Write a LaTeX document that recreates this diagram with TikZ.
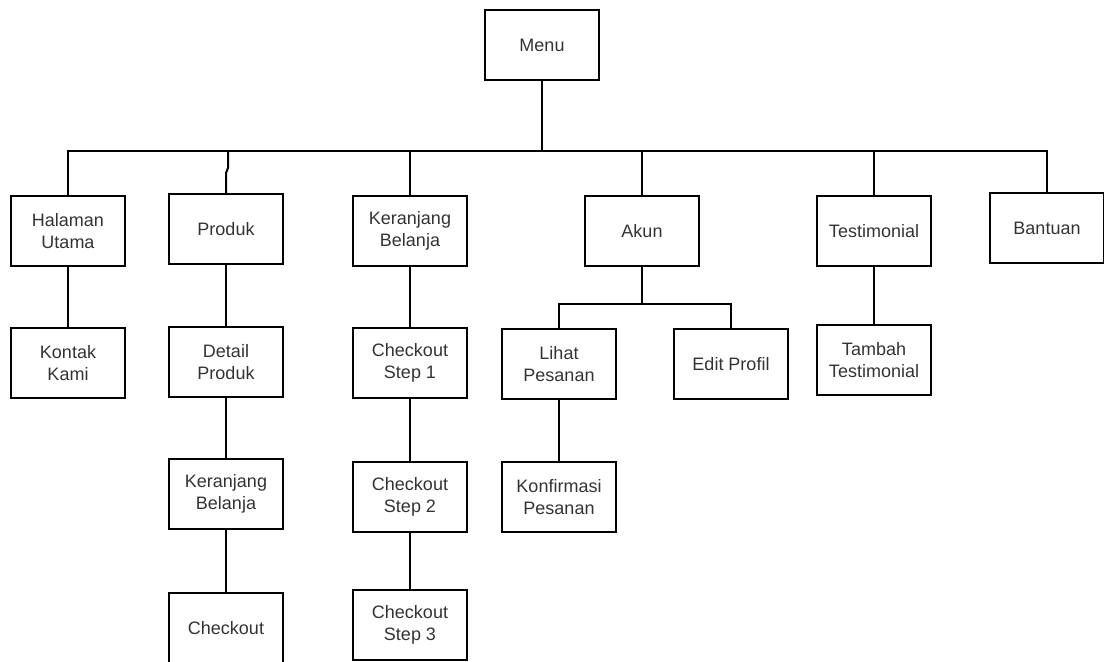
\documentclass[tikz,border=0pt]{standalone}
\usepackage{fontspec}
\setmainfont{Liberation Sans}
\tikzset{
  menubox/.style={draw,line width=1pt,minimum width=57pt,minimum height=35pt,
    align=center,inner sep=2pt,text=black!80,font=\fontsize{9}{10.8}\selectfont},
  link/.style={line width=1pt}
}
\begin{document}
\begin{tikzpicture}[x=.5pt,y=-.5pt]
\useasboundingbox (0,0) rectangle (1104,662);
%
\node[menubox] (menu) at (542,45) {Menu};
\node[menubox] (halaman) at (68,231) {Halaman\\Utama};
\node[menubox] (produk) at (226,229) {Produk};
\node[menubox] (keranjang) at (410,231) {Keranjang\\Belanja};
\node[menubox] (akun) at (642,231) {Akun};
\node[menubox] (testi) at (874,231) {Testimonial};
\node[menubox] (bantuan) at (1047,228) {Bantuan};
%
\node[menubox] (kontak) at (68,363) {Kontak\\Kami};
\node[menubox] (detail) at (226,362) {Detail\\Produk};
\node[menubox] (step1) at (410,363) {Checkout\\Step 1};
\node[menubox] (lihat) at (559,364) {Lihat\\Pesanan};
\node[menubox] (edit) at (731,364) {Edit Profil};
\node[menubox] (tambah) at (874,360) {Tambah\\Testimonial};
%
\node[menubox] (keranjangb) at (226,494) {Keranjang\\Belanja};
\node[menubox] (step2) at (410,497) {Checkout\\Step 2};
\node[menubox] (konfirmasi) at (559,497) {Konfirmasi\\Pesanan};
%
\node[menubox] (checkout) at (226,628) {Checkout};
\node[menubox] (step3) at (410,625) {Checkout\\Step 3};
%
\coordinate (bus) at (0,151);
\coordinate (subbus) at (0,304);
\coordinate (jog) at (228,168);
\draw[link] (menu) -- (menu.south |- bus);
\draw[link] (halaman) -- (halaman.north |- bus) -- (bantuan.north |- bus) -- (bantuan);
\draw[link] (produk) -- (produk.north |- 0,173) -- (jog) -- (jog |- bus);
\draw[link] (keranjang) -- (keranjang.north |- bus);
\draw[link] (akun) -- (akun.north |- bus);
\draw[link] (testi) -- (testi.north |- bus);
%
\draw[link] (halaman) -- (kontak);
\draw[link] (produk) -- (detail);
\draw[link] (detail) -- (keranjangb);
\draw[link] (keranjangb) -- (checkout);
\draw[link] (keranjang) -- (step1);
\draw[link] (step1) -- (step2);
\draw[link] (step2) -- (step3);
\draw[link] (testi) -- (tambah);
\draw[link] (akun) -- (akun.south |- subbus);
\draw[link] (lihat) -- (lihat.north |- subbus) -- (edit.north |- subbus) -- (edit);
\draw[link] (lihat) -- (konfirmasi);
\end{tikzpicture}
\end{document}
